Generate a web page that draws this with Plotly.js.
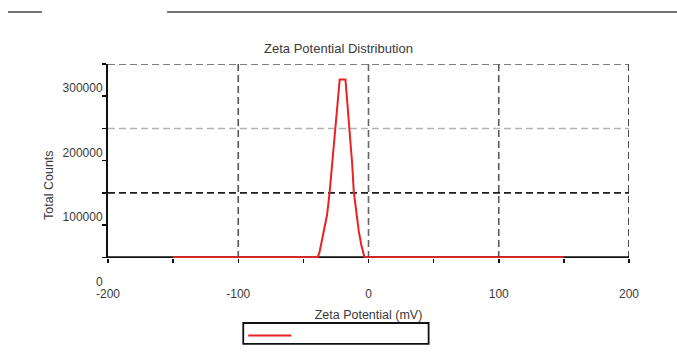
<!DOCTYPE html>
<html>
<head>
<meta charset="utf-8">
<script src="https://cdn.plot.ly/plotly-3.0.1.min.js"></script>
<style>html,body{margin:0;padding:0;background:#fff;}#chart{width:677px;height:354px;}</style>
</head>
<body>
<div id="chart"></div>
<script>
// Data
const zetaMV = [-150, -39, -37.6, -36.4, -33.8, -31.8, -29.8, -27.9, -25.9, -22.1, -17.7, -14.6, -12.5, -11.3, -9.2, -7.5, -5.6, -4.2, -3.1, 150];
const totalCounts = [0, 0, 8000, 20000, 41000, 66000, 102000, 144000, 201000, 276000, 276000, 201000, 144000, 102000, 66000, 41000, 20000, 8000, 0, 0];
const xTickVals = [-200, -100, 0, 100, 200];
const xTickText = ['-200', '-100', '0', '100', '200'];
const yTickVals = [0, 100000, 200000, 300000];
const yTickText = ['0', '100000', '200000', '300000'];
// gridline tints as they appear in the reference
const xGridColors = [null, '#555555', '#666666', '#5a5a5a', '#1e1e1e'];
const yGridColors = [null, '#1e1e1e', '#b3b3b3', '#555555'];

const FONT = 'Liberation Sans, Arial, sans-serif';
const TXT = '#3a3a3a';
const DASH = '7px,4px';
const RED = '#e82323';

const trace = {
  x: zetaMV, y: totalCounts, type: 'scatter', mode: 'lines',
  name: ' ', line: {color: RED, width: 2}, cliponaxis: false,
  showlegend: false, hoverinfo: 'skip'
};

const shapes = [];
xTickVals.forEach((v, i) => {
  if (xGridColors[i]) shapes.push({type: 'line', layer: 'below', xref: 'x', yref: 'paper', x0: v, x1: v, y0: 0, y1: 1, line: {color: xGridColors[i], width: 1.6, dash: DASH}});
});
yTickVals.forEach((v, i) => {
  if (yGridColors[i]) shapes.push({type: 'line', layer: 'below', xref: 'paper', yref: 'y', x0: 0, x1: 1, y0: v, y1: v, line: {color: yGridColors[i], width: 1.6, dash: DASH}});
});
// bottom axis line drawn under the trace so the red baseline covers it
shapes.push({type: 'line', layer: 'below', xref: 'paper', yref: 'y', x0: 0, x1: 1, y0: 0, y1: 0, line: {color: '#111', width: 2}});
// page rules at the very top
shapes.push({type: 'line', xref: 'paper', yref: 'paper', x0: -0.192, x1: -0.127, y0: 1.268, y1: 1.268, line: {color: '#444', width: 1.5}});
shapes.push({type: 'line', xref: 'paper', yref: 'paper', x0: 0.1135, x1: 1.1, y0: 1.268, y1: 1.268, line: {color: '#444', width: 1.5}});
// legend box (no label text in the reference) with its red line sample
shapes.push({type: 'rect', xref: 'paper', yref: 'paper', x0: 0.2596, x1: 0.6154, y0: -0.335, y1: -0.443, fillcolor: '#fff', line: {color: '#111', width: 1.8}});
shapes.push({type: 'line', xref: 'paper', yref: 'paper', x0: 0.2692, x1: 0.3519, y0: -0.3995, y1: -0.3995, line: {color: RED, width: 2}});

const layout = {
  width: 677, height: 354,
  margin: {l: 108, r: 48, t: 64, b: 96},
  paper_bgcolor: '#ffffff', plot_bgcolor: '#ffffff',
  font: {family: FONT, size: 12, color: TXT},
  title: {text: 'Zeta Potential Distribution', x: 0.5, xanchor: 'center', y: 0.862, yanchor: 'middle', yref: 'container', font: {family: FONT, size: 13, color: TXT}},
  showlegend: false,
  xaxis: {
    range: [-200, 200], tickmode: 'array', tickvals: xTickVals, ticktext: xTickText,
    ticks: 'outside', ticklen: 4, tickwidth: 1.5, tickcolor: '#111',
    minor: {dtick: 50, tick0: 0, ticks: 'outside', ticklen: 4, tickwidth: 1.5, tickcolor: '#111', showgrid: false},
    showline: false, showgrid: false, zeroline: false,
    ticklabelstandoff: 21, tickfont: {size: 12, color: TXT},
    title: {text: 'Zeta Potential (mV)', standoff: 9, font: {size: 12.5, color: TXT}},
    fixedrange: true
  },
  yaxis: {
    range: [-1000, 300000], tickmode: 'array', tickvals: yTickVals, ticktext: yTickText,
    ticks: 'outside', ticklen: 4, tickwidth: 1.5, tickcolor: '#111',
    minor: {dtick: 50000, tick0: 0, ticks: 'outside', ticklen: 4, tickwidth: 1.5, tickcolor: '#111', showgrid: false},
    showline: true, linecolor: '#111', linewidth: 2,
    showgrid: false, zeroline: false, ticklabelshift: 24, ticklabelstandoff: -3, tickfont: {size: 12, color: TXT},
    fixedrange: true
  },
  xaxis2: {overlaying: 'x', anchor: 'y', side: 'bottom', range: [-200, 200], tickmode: 'array', tickvals: xTickVals,
    ticks: 'inside', ticklen: 3, tickwidth: 1.5, tickcolor: '#111', showticklabels: false, showgrid: false, zeroline: false, showline: false,
    minor: {dtick: 50, tick0: 0, ticks: 'inside', ticklen: 3, tickwidth: 1.5, tickcolor: '#111', showgrid: false}},
  yaxis2: {overlaying: 'y', anchor: 'x', side: 'left', range: [-1000, 300000], tickmode: 'array', tickvals: yTickVals,
    ticks: 'inside', ticklen: 3, tickwidth: 1.5, tickcolor: '#111', showticklabels: false, showgrid: false, zeroline: false, showline: false,
    minor: {dtick: 50000, tick0: 0, ticks: 'inside', ticklen: 3, tickwidth: 1.5, tickcolor: '#111', showgrid: false}},
  annotations: [
    {text: 'Total Counts', textangle: -90, xref: 'paper', yref: 'paper', x: -0.1135, y: 0.376, xanchor: 'center', yanchor: 'middle', showarrow: false, font: {family: FONT, size: 12.5, color: TXT}}
  ],
  shapes: shapes
};

Plotly.newPlot('chart', [trace], layout, {displayModeBar: false, staticPlot: true});
</script>
</body>
</html>
